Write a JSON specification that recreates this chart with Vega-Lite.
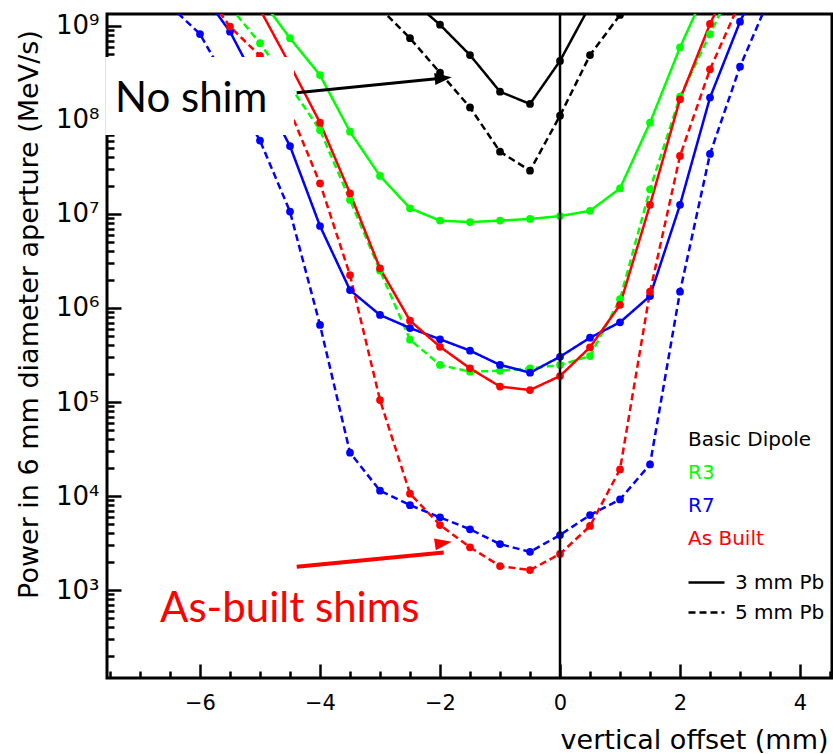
{
  "$schema": "https://vega.github.io/schema/vega-lite/v6.json",
  "width": 725,
  "height": 664,
  "autosize": {"type": "none"},
  "padding": {"left": 107, "top": 14, "right": 1, "bottom": 76},
  "background": "white",
  "config": {
    "view": {"stroke": "black", "strokeWidth": 3},
    "font": "DejaVu Sans"
  },
  "resolve": {"axis": {"x": "independent", "y": "independent"}},
  "datasets": {
    "curves": [
      {"c": "Basic Dipole", "t": "3 mm Pb", "x": -2.5, "p": 1.95e9},
      {"c": "Basic Dipole", "t": "3 mm Pb", "x": -2, "p": 1.03e9},
      {"c": "Basic Dipole", "t": "3 mm Pb", "x": -1.5, "p": 4.9e8},
      {"c": "Basic Dipole", "t": "3 mm Pb", "x": -1, "p": 2.0e8},
      {"c": "Basic Dipole", "t": "3 mm Pb", "x": -0.5, "p": 1.48e8},
      {"c": "Basic Dipole", "t": "3 mm Pb", "x": 0, "p": 4.25e8},
      {"c": "Basic Dipole", "t": "3 mm Pb", "x": 0.5, "p": 1.65e9},

      {"c": "Basic Dipole", "t": "5 mm Pb", "x": -3, "p": 1.55e9},
      {"c": "Basic Dipole", "t": "5 mm Pb", "x": -2.5, "p": 7.4e8},
      {"c": "Basic Dipole", "t": "5 mm Pb", "x": -2, "p": 3.18e8},
      {"c": "Basic Dipole", "t": "5 mm Pb", "x": -1.5, "p": 1.36e8},
      {"c": "Basic Dipole", "t": "5 mm Pb", "x": -1, "p": 4.6e7},
      {"c": "Basic Dipole", "t": "5 mm Pb", "x": -0.5, "p": 2.89e7},
      {"c": "Basic Dipole", "t": "5 mm Pb", "x": 0, "p": 1.11e8},
      {"c": "Basic Dipole", "t": "5 mm Pb", "x": 0.5, "p": 4.9e8},
      {"c": "Basic Dipole", "t": "5 mm Pb", "x": 1, "p": 1.31e9},

      {"c": "R3", "t": "3 mm Pb", "x": -5, "p": 2.0e9},
      {"c": "R3", "t": "3 mm Pb", "x": -4.5, "p": 7.4e8},
      {"c": "R3", "t": "3 mm Pb", "x": -4, "p": 3.0e8},
      {"c": "R3", "t": "3 mm Pb", "x": -3.5, "p": 7.5e7},
      {"c": "R3", "t": "3 mm Pb", "x": -3, "p": 2.54e7},
      {"c": "R3", "t": "3 mm Pb", "x": -2.5, "p": 1.15e7},
      {"c": "R3", "t": "3 mm Pb", "x": -2, "p": 8.5e6},
      {"c": "R3", "t": "3 mm Pb", "x": -1.5, "p": 8.2e6},
      {"c": "R3", "t": "3 mm Pb", "x": -1, "p": 8.5e6},
      {"c": "R3", "t": "3 mm Pb", "x": -0.5, "p": 8.85e6},
      {"c": "R3", "t": "3 mm Pb", "x": 0, "p": 9.5e6},
      {"c": "R3", "t": "3 mm Pb", "x": 0.5, "p": 1.08e7},
      {"c": "R3", "t": "3 mm Pb", "x": 1, "p": 1.87e7},
      {"c": "R3", "t": "3 mm Pb", "x": 1.5, "p": 9.35e7},
      {"c": "R3", "t": "3 mm Pb", "x": 2, "p": 5.9e8},
      {"c": "R3", "t": "3 mm Pb", "x": 2.5, "p": 3.0e9},

      {"c": "R3", "t": "5 mm Pb", "x": -5.5, "p": 1.6e9},
      {"c": "R3", "t": "5 mm Pb", "x": -5, "p": 6.55e8},
      {"c": "R3", "t": "5 mm Pb", "x": -4.5, "p": 2.3e8},
      {"c": "R3", "t": "5 mm Pb", "x": -4, "p": 7.8e7},
      {"c": "R3", "t": "5 mm Pb", "x": -3.5, "p": 1.41e7},
      {"c": "R3", "t": "5 mm Pb", "x": -3, "p": 2.5e6},
      {"c": "R3", "t": "5 mm Pb", "x": -2.5, "p": 4.6e5},
      {"c": "R3", "t": "5 mm Pb", "x": -2, "p": 2.48e5},
      {"c": "R3", "t": "5 mm Pb", "x": -1.5, "p": 2.1e5},
      {"c": "R3", "t": "5 mm Pb", "x": -1, "p": 2.15e5},
      {"c": "R3", "t": "5 mm Pb", "x": -0.5, "p": 2.28e5},
      {"c": "R3", "t": "5 mm Pb", "x": 0, "p": 2.48e5},
      {"c": "R3", "t": "5 mm Pb", "x": 0.5, "p": 3.08e5},
      {"c": "R3", "t": "5 mm Pb", "x": 1, "p": 1.24e6},
      {"c": "R3", "t": "5 mm Pb", "x": 1.5, "p": 1.83e7},
      {"c": "R3", "t": "5 mm Pb", "x": 2, "p": 1.77e8},
      {"c": "R3", "t": "5 mm Pb", "x": 2.5, "p": 8.2e8},
      {"c": "R3", "t": "5 mm Pb", "x": 3, "p": 3.7e9},

      {"c": "R7", "t": "3 mm Pb", "x": -6, "p": 2.4e9},
      {"c": "R7", "t": "3 mm Pb", "x": -5.5, "p": 8.7e8},
      {"c": "R7", "t": "3 mm Pb", "x": -5, "p": 2.14e8},
      {"c": "R7", "t": "3 mm Pb", "x": -4.5, "p": 5.28e7},
      {"c": "R7", "t": "3 mm Pb", "x": -4, "p": 7.45e6},
      {"c": "R7", "t": "3 mm Pb", "x": -3.5, "p": 1.55e6},
      {"c": "R7", "t": "3 mm Pb", "x": -3, "p": 8.43e5},
      {"c": "R7", "t": "3 mm Pb", "x": -2.5, "p": 6.12e5},
      {"c": "R7", "t": "3 mm Pb", "x": -2, "p": 4.65e5},
      {"c": "R7", "t": "3 mm Pb", "x": -1.5, "p": 3.52e5},
      {"c": "R7", "t": "3 mm Pb", "x": -1, "p": 2.48e5},
      {"c": "R7", "t": "3 mm Pb", "x": -0.5, "p": 2.05e5},
      {"c": "R7", "t": "3 mm Pb", "x": 0, "p": 3.03e5},
      {"c": "R7", "t": "3 mm Pb", "x": 0.5, "p": 4.83e5},
      {"c": "R7", "t": "3 mm Pb", "x": 1, "p": 7.05e5},
      {"c": "R7", "t": "3 mm Pb", "x": 1.5, "p": 1.34e6},
      {"c": "R7", "t": "3 mm Pb", "x": 2, "p": 1.25e7},
      {"c": "R7", "t": "3 mm Pb", "x": 2.5, "p": 1.73e8},
      {"c": "R7", "t": "3 mm Pb", "x": 3, "p": 1.11e9},
      {"c": "R7", "t": "3 mm Pb", "x": 3.5, "p": 4.9e9},

      {"c": "R7", "t": "5 mm Pb", "x": -6.5, "p": 1.64e9},
      {"c": "R7", "t": "5 mm Pb", "x": -6, "p": 8.2e8},
      {"c": "R7", "t": "5 mm Pb", "x": -5.5, "p": 2.24e8},
      {"c": "R7", "t": "5 mm Pb", "x": -5, "p": 6.03e7},
      {"c": "R7", "t": "5 mm Pb", "x": -4.5, "p": 1.06e7},
      {"c": "R7", "t": "5 mm Pb", "x": -4, "p": 6.6e5},
      {"c": "R7", "t": "5 mm Pb", "x": -3.5, "p": 2.89e4},
      {"c": "R7", "t": "5 mm Pb", "x": -3, "p": 1.14e4},
      {"c": "R7", "t": "5 mm Pb", "x": -2.5, "p": 8.0e3},
      {"c": "R7", "t": "5 mm Pb", "x": -2, "p": 5.93e3},
      {"c": "R7", "t": "5 mm Pb", "x": -1.5, "p": 4.43e3},
      {"c": "R7", "t": "5 mm Pb", "x": -1, "p": 3.08e3},
      {"c": "R7", "t": "5 mm Pb", "x": -0.5, "p": 2.55e3},
      {"c": "R7", "t": "5 mm Pb", "x": 0, "p": 3.85e3},
      {"c": "R7", "t": "5 mm Pb", "x": 0.5, "p": 6.28e3},
      {"c": "R7", "t": "5 mm Pb", "x": 1, "p": 9.2e3},
      {"c": "R7", "t": "5 mm Pb", "x": 1.5, "p": 2.17e4},
      {"c": "R7", "t": "5 mm Pb", "x": 2, "p": 1.49e6},
      {"c": "R7", "t": "5 mm Pb", "x": 2.5, "p": 4.35e7},
      {"c": "R7", "t": "5 mm Pb", "x": 3, "p": 3.69e8},
      {"c": "R7", "t": "5 mm Pb", "x": 3.5, "p": 2.05e9},

      {"c": "As Built", "t": "3 mm Pb", "x": -5, "p": 1.5e9},
      {"c": "As Built", "t": "3 mm Pb", "x": -4.5, "p": 3.85e8},
      {"c": "As Built", "t": "3 mm Pb", "x": -4, "p": 9.35e7},
      {"c": "As Built", "t": "3 mm Pb", "x": -3.5, "p": 1.66e7},
      {"c": "As Built", "t": "3 mm Pb", "x": -3, "p": 2.64e6},
      {"c": "As Built", "t": "3 mm Pb", "x": -2.5, "p": 7.33e5},
      {"c": "As Built", "t": "3 mm Pb", "x": -2, "p": 3.87e5},
      {"c": "As Built", "t": "3 mm Pb", "x": -1.5, "p": 2.28e5},
      {"c": "As Built", "t": "3 mm Pb", "x": -1, "p": 1.46e5},
      {"c": "As Built", "t": "3 mm Pb", "x": -0.5, "p": 1.34e5},
      {"c": "As Built", "t": "3 mm Pb", "x": 0, "p": 1.89e5},
      {"c": "As Built", "t": "3 mm Pb", "x": 0.5, "p": 3.82e5},
      {"c": "As Built", "t": "3 mm Pb", "x": 1, "p": 1.08e6},
      {"c": "As Built", "t": "3 mm Pb", "x": 1.5, "p": 1.25e7},
      {"c": "As Built", "t": "3 mm Pb", "x": 2, "p": 1.66e8},
      {"c": "As Built", "t": "3 mm Pb", "x": 2.5, "p": 1.05e9},
      {"c": "As Built", "t": "3 mm Pb", "x": 3, "p": 4.8e9},

      {"c": "As Built", "t": "5 mm Pb", "x": -6, "p": 2.7e9},
      {"c": "As Built", "t": "5 mm Pb", "x": -5.5, "p": 9.85e8},
      {"c": "As Built", "t": "5 mm Pb", "x": -5, "p": 4.8e8},
      {"c": "As Built", "t": "5 mm Pb", "x": -4.5, "p": 1.25e8},
      {"c": "As Built", "t": "5 mm Pb", "x": -4, "p": 2.12e7},
      {"c": "As Built", "t": "5 mm Pb", "x": -3.5, "p": 2.24e6},
      {"c": "As Built", "t": "5 mm Pb", "x": -3, "p": 1.05e5},
      {"c": "As Built", "t": "5 mm Pb", "x": -2.5, "p": 1.06e4},
      {"c": "As Built", "t": "5 mm Pb", "x": -2, "p": 4.91e3},
      {"c": "As Built", "t": "5 mm Pb", "x": -1.5, "p": 2.85e3},
      {"c": "As Built", "t": "5 mm Pb", "x": -1, "p": 1.8e3},
      {"c": "As Built", "t": "5 mm Pb", "x": -0.5, "p": 1.63e3},
      {"c": "As Built", "t": "5 mm Pb", "x": 0, "p": 2.42e3},
      {"c": "As Built", "t": "5 mm Pb", "x": 0.5, "p": 4.8e3},
      {"c": "As Built", "t": "5 mm Pb", "x": 1, "p": 1.92e4},
      {"c": "As Built", "t": "5 mm Pb", "x": 1.5, "p": 1.49e6},
      {"c": "As Built", "t": "5 mm Pb", "x": 2, "p": 4.14e7},
      {"c": "As Built", "t": "5 mm Pb", "x": 2.5, "p": 3.46e8},
      {"c": "As Built", "t": "5 mm Pb", "x": 3, "p": 1.8e9}
    ]
  },
  "layer": [
    {
      "data": {"name": "curves"},
      "mark": {"type": "line", "clip": true, "strokeWidth": 2.5},
      "encoding": {
        "x": {
          "field": "x", "type": "quantitative",
          "scale": {"domain": [-7.55, 4.533], "nice": false, "zero": false},
          "axis": {
            "orient": "bottom",
            "values": [-6, -4, -2, 0, 2, 4],
            "tickSize": -14,
            "tickColor": "black", "tickWidth": 2.5, "domain": false, "grid": false,
            "labelFontSize": 21, "labelColor": "black", "labelPadding": 28, "labelFont": "DejaVu Sans",
            "labelFlush": false, "labelOverlap": false,
            "title": "vertical offset (mm)", "titleFontSize": 27, "titleFontWeight": "normal",
            "titleColor": "black", "titleFont": "DejaVu Sans",
            "titleX": 721, "titleY": 70, "titleAlign": "right", "titleBaseline": "alphabetic"
          }
        },
        "y": {
          "field": "p", "type": "quantitative",
          "scale": {"type": "log", "domain": [116, 1.34e9], "nice": false},
          "axis": {
            "orient": "left",
            "values": [1000, 10000, 100000, 1000000, 10000000, 100000000, 1000000000],
            "labelExpr": "'10' + ['⁰','¹','²','³','⁴','⁵','⁶','⁷','⁸','⁹'][round(log(datum.value)/LN10)]",
            "tickSize": -14,
            "tickColor": "black", "tickWidth": 2.5, "domain": false, "grid": false,
            "labelFontSize": 26, "labelColor": "black", "labelPadding": 22, "labelFont": "DejaVu Sans",
            "labelFlush": false, "labelOverlap": false,
            "title": "Power in 6 mm diameter aperture (MeV/s)", "titleFontSize": 27, "titleFontWeight": "normal",
            "titleColor": "black", "titleFont": "DejaVu Sans",
            "titleX": -70, "titleY": 300, "titleAngle": 270, "titleAlign": "center", "titleBaseline": "alphabetic"
          }
        },
        "color": {
          "field": "c", "type": "nominal",
          "scale": {"domain": ["Basic Dipole", "R3", "R7", "As Built"], "range": ["#000000", "#00ff00", "#0000ff", "#ff0000"]},
          "legend": {
            "orient": "none", "legendX": 561, "legendY": 416, "title": null,
            "symbolOpacity": 0, "symbolSize": 0, "symbolStrokeWidth": 0,
            "labelFontSize": 20, "labelFont": "DejaVu Sans", "labelOffset": 0, "rowPadding": 13, "padding": 0,
            "encode": {"labels": {"update": {"fill": {"scale": "color", "field": "value"}}}}
          }
        },
        "strokeDash": {
          "field": "t", "type": "nominal",
          "scale": {"domain": ["3 mm Pb", "5 mm Pb"], "range": [[1, 0], [7, 4]]},
          "legend": {
            "orient": "none", "legendX": 580, "legendY": 549, "title": null,
            "symbolType": "stroke", "symbolStrokeColor": "black", "symbolStrokeWidth": 2.5, "symbolSize": 1296,
            "labelFontSize": 20, "labelFont": "DejaVu Sans", "labelColor": "black", "labelOffset": 9, "rowPadding": -3, "padding": 0
          }
        }
      }
    },
    {
      "data": {"name": "curves"},
      "mark": {"type": "point", "filled": true, "size": 60, "opacity": 1, "clip": true},
      "encoding": {
        "x": {
          "field": "x", "type": "quantitative",
          "axis": {
            "orient": "bottom",
            "values": [-7.5, -7, -6.5, -5.5, -5, -4.5, -3.5, -3, -2.5, -1.5, -1, -0.5, 0.5, 1, 1.5, 2.5, 3, 3.5, 4.5],
            "tickSize": -7, "tickColor": "black", "tickWidth": 2.5,
            "labels": false, "domain": false, "grid": false, "title": null
          }
        },
        "y": {
          "field": "p", "type": "quantitative",
          "axis": {
            "orient": "left",
            "values": [200, 300, 400, 500, 600, 700, 800, 900, 2000, 3000, 4000, 5000, 6000, 7000, 8000, 9000, 20000, 30000, 40000, 50000, 60000, 70000, 80000, 90000, 200000, 300000, 400000, 500000, 600000, 700000, 800000, 900000, 2000000, 3000000, 4000000, 5000000, 6000000, 7000000, 8000000, 9000000, 20000000, 30000000, 40000000, 50000000, 60000000, 70000000, 80000000, 90000000, 200000000, 300000000, 400000000, 500000000, 600000000, 700000000, 800000000, 900000000],
            "tickSize": -7, "tickColor": "black", "tickWidth": 2.5,
            "labels": false, "domain": false, "grid": false, "title": null
          }
        },
        "color": {"field": "c", "type": "nominal", "legend": null}
      }
    },
    {
      "data": {"values": [{"x": 0}]},
      "mark": {"type": "rule", "color": "black", "strokeWidth": 2.5},
      "encoding": {"x": {"field": "x", "type": "quantitative", "axis": null}}
    },
    {
      "data": {"values": [{"x": -7.58, "x2": -4.433, "y": 4.68e8, "y2": 6.92e7}]},
      "mark": {"type": "rect", "fill": "white", "clip": false},
      "encoding": {
        "x": {"field": "x", "type": "quantitative", "axis": null},
        "x2": {"field": "x2"},
        "y": {"field": "y", "type": "quantitative", "axis": null},
        "y2": {"field": "y2"}
      }
    },
    {
      "data": {"values": [{"label": "No shim", "x": -7.417, "y": 1.224e8}]},
      "mark": {"type": "text", "font": "Lato", "fontSize": 42, "color": "black", "align": "left", "baseline": "alphabetic", "clip": false},
      "encoding": {
        "x": {"field": "x", "type": "quantitative", "axis": null},
        "y": {"field": "y", "type": "quantitative", "axis": null},
        "text": {"field": "label"}
      }
    },
    {
      "data": {"values": [{"label": "As-built shims", "x": -6.667, "y": 460}]},
      "mark": {"type": "text", "font": "Lato", "fontSize": 42, "color": "#ff0000", "align": "left", "baseline": "alphabetic"},
      "encoding": {
        "x": {"field": "x", "type": "quantitative", "axis": null},
        "y": {"field": "y", "type": "quantitative", "axis": null},
        "text": {"field": "label"}
      }
    },
    {
      "data": {"values": [{"x": -4.388, "y": 1.95e8, "x2": -1.938, "y2": 2.79e8}]},
      "mark": {"type": "rule", "color": "black", "strokeWidth": 3},
      "encoding": {
        "x": {"field": "x", "type": "quantitative", "axis": null},
        "y": {"field": "y", "type": "quantitative", "axis": null},
        "x2": {"field": "x2"},
        "y2": {"field": "y2"}
      }
    },
    {
      "data": {"values": [{"x": -1.805, "y": 2.84e8}]},
      "mark": {"type": "point", "shape": "M0,0 L-2,-0.7 L-2,0.7 Z", "filled": true, "size": 289, "angle": 354.5, "color": "black", "opacity": 1},
      "encoding": {
        "x": {"field": "x", "type": "quantitative", "axis": null},
        "y": {"field": "y", "type": "quantitative", "axis": null}
      }
    },
    {
      "data": {"values": [{"x": -4.388, "y": 1771, "x2": -1.938, "y2": 2514}]},
      "mark": {"type": "rule", "color": "#ff0000", "strokeWidth": 4},
      "encoding": {
        "x": {"field": "x", "type": "quantitative", "axis": null},
        "y": {"field": "y", "type": "quantitative", "axis": null},
        "x2": {"field": "x2"},
        "y2": {"field": "y2"}
      }
    },
    {
      "data": {"values": [{"x": -1.805, "y": 3266}]},
      "mark": {"type": "point", "shape": "M0,0 L-2,-0.7 L-2,0.7 Z", "filled": true, "size": 289, "angle": 351, "color": "#ff0000", "opacity": 1},
      "encoding": {
        "x": {"field": "x", "type": "quantitative", "axis": null},
        "y": {"field": "y", "type": "quantitative", "axis": null}
      }
    }
  ]
}
